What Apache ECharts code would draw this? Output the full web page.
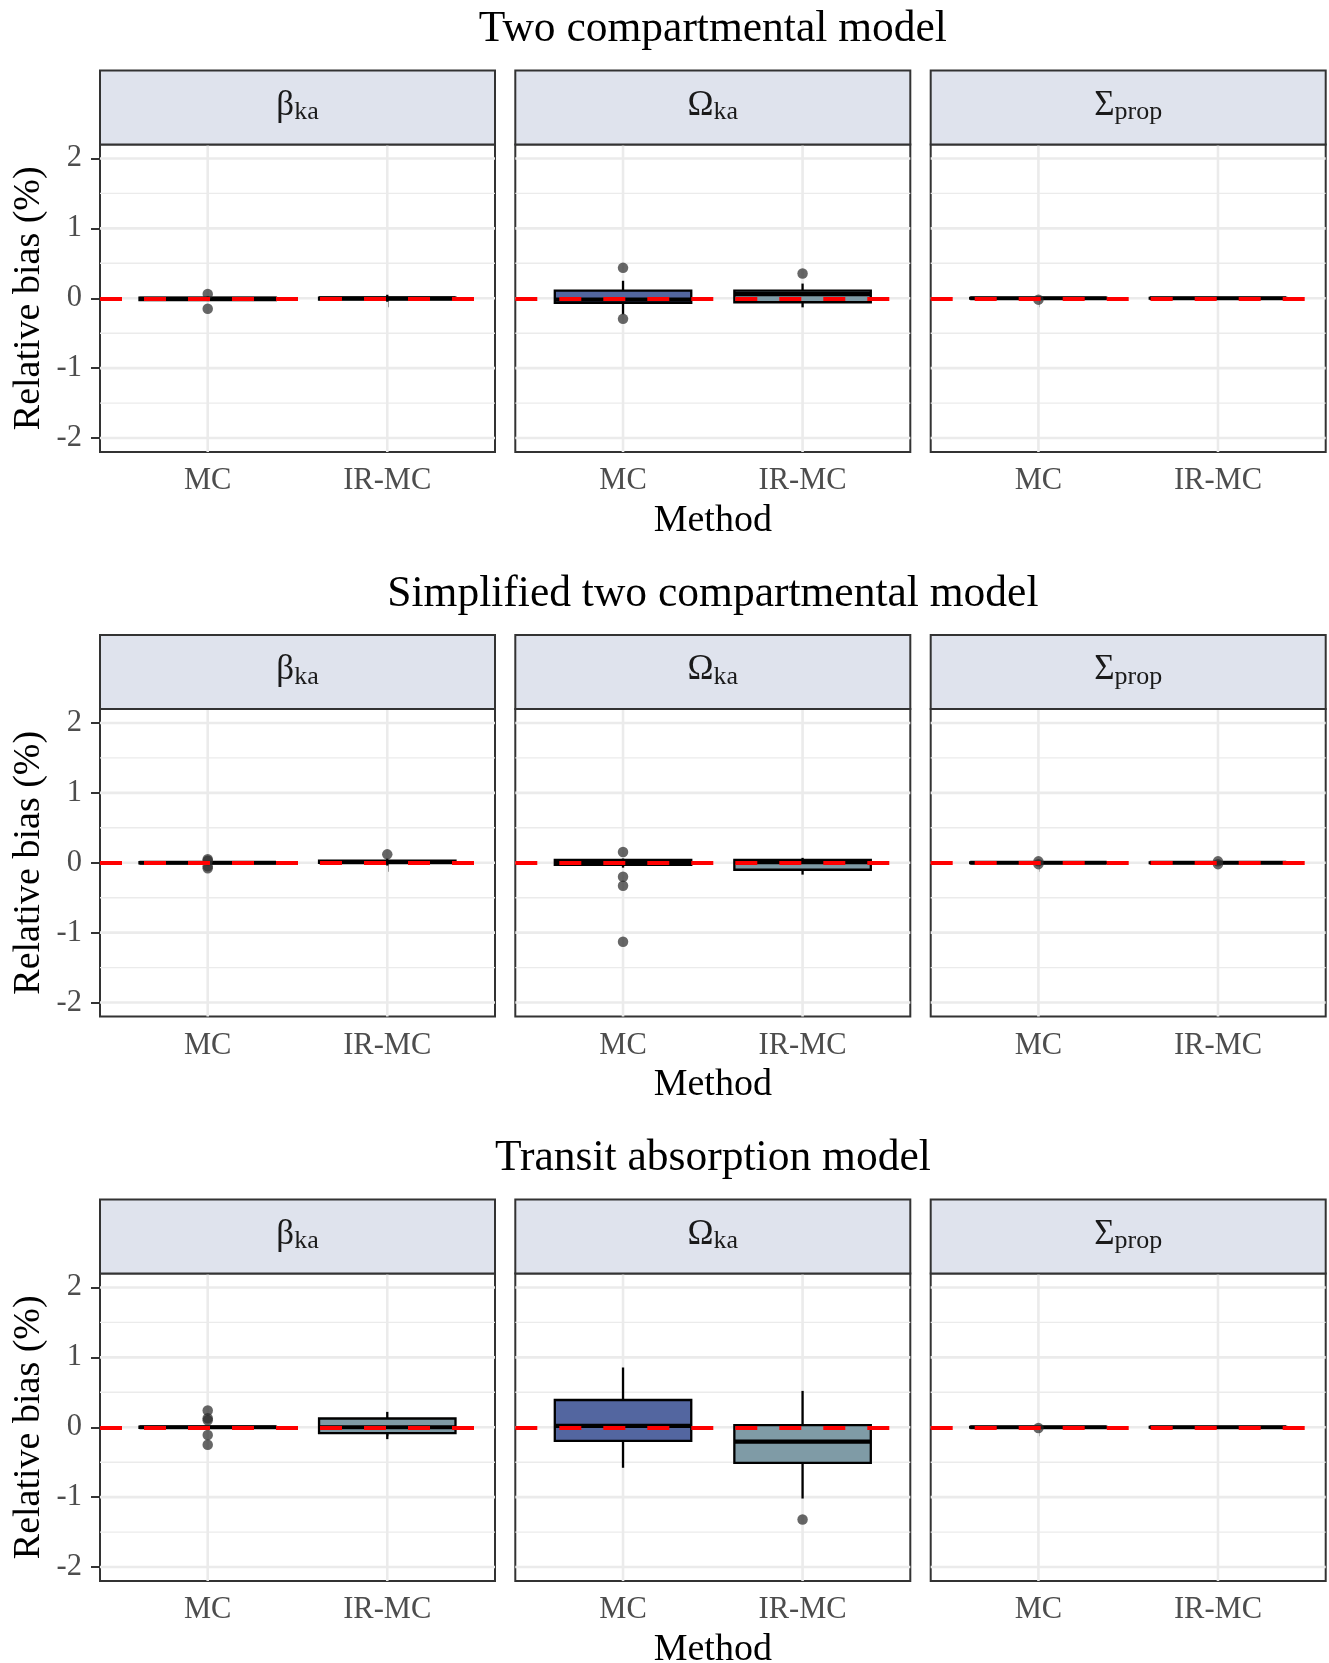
<!DOCTYPE html>
<html>
<head>
<meta charset="utf-8">
<script src="https://cdn.jsdelivr.net/npm/echarts@6/dist/echarts.min.js"></script>
<style>html,body{margin:0;padding:0;background:#fff;}#chart{width:1329px;height:1663px;}</style>
</head>
<body>
<div id="chart"></div>
<script>
// ---------- data ----------
const modelTitles = ['Two compartmental model', 'Simplified two compartmental model', 'Transit absorption model'];
const paramSymbols = ['β', 'Ω', 'Σ'];
const paramSubs = ['ka', 'ka', 'prop'];
const methods = ['MC', 'IR-MC'];
const yTicks = [-2, -1, 0, 1, 2];
const yMinor = [-1.5, -0.5, 0.5, 1.5];
const refValue = 0;

// box stats per parameter: [MC, IR-MC], each [lowerWhisker, q1, median, q3, upperWhisker]
const twoCompBoxes = [
  [[-0.04, -0.025, -0.01, 0.01, 0.03], [-0.05, -0.02, 0.0, 0.01, 0.05]],
  [[-0.23, -0.066, -0.02, 0.11, 0.25], [-0.13, -0.057, 0.06, 0.11, 0.21]],
  [[-0.01, -0.005, 0.0, 0.005, 0.01], [-0.01, -0.005, 0.0, 0.005, 0.01]]
];
const twoCompOutliers = [
  [[0.06, -0.15], []],
  [[0.435, -0.295], [0.354]],
  [[-0.02], []]
];
const simpBoxes = [
  [[-0.02, -0.01, 0.0, 0.01, 0.02], [-0.04, 0.0, 0.01, 0.03, 0.06]],
  [[-0.07, -0.03, 0.0, 0.04, 0.06], [-0.17, -0.10, 0.01, 0.04, 0.07]],
  [[-0.01, -0.005, 0.0, 0.005, 0.01], [-0.01, -0.005, 0.0, 0.005, 0.01]]
];
const simpOutliers = [
  [[0.05, 0.03, -0.05, -0.08], [0.12]],
  [[0.153, -0.2, -0.33, -1.13], []],
  [[0.02, -0.02], [0.02, -0.02]]
];
const transitBoxes = [
  [[-0.02, -0.01, 0.0, 0.01, 0.02], [-0.17, -0.085, 0.0, 0.125, 0.22]],
  [[-0.58, -0.196, 0.02, 0.39, 0.855], [-1.02, -0.51, -0.205, 0.03, 0.52]],
  [[-0.01, -0.005, 0.0, 0.005, 0.01], [-0.01, -0.005, 0.0, 0.005, 0.01]]
];
const transitOutliers = [
  [[0.24, 0.13, 0.10, -0.11, -0.25], []],
  [[], [-1.32]],
  [[-0.01], []]
];
const allBoxes = [twoCompBoxes, simpBoxes, transitBoxes];
const allOutliers = [twoCompOutliers, simpOutliers, transitOutliers];

// ---------- layout / style ----------
const SERIF = "'Liberation Serif','Times New Roman',serif";
const panelLeft = [100, 515.3, 930.7];
const panelW = 395;
const rowOff = 564.5;
const stripTop0 = 70.5, stripH = 74;
const plotTop0 = 144.5, plotH = 307.5;
const boxWidth = 0.76;
const boxColors = ['#5366A0', '#7F9BA6'];
const stripFill = '#DFE3ED';

const chart = echarts.init(document.getElementById('chart'), null, {renderer: 'canvas'});

const titles = [], grids = [], xAxes = [], yAxes = [], series = [], graphics = [];

for (let r = 0; r < 3; r++) {
  titles.push({
    text: modelTitles[r], left: 712.9, top: 8 + r * rowOff, textAlign: 'center', padding: 0,
    textStyle: {fontSize: 43.5, fontWeight: 'normal', color: '#000', fontFamily: SERIF, lineHeight: 44}
  });
  for (let c = 0; c < 3; c++) {
    const gi = r * 3 + c;
    grids.push({
      left: panelLeft[c], top: plotTop0 + r * rowOff, width: panelW, height: plotH,
      show: true, borderColor: '#333', borderWidth: 2, backgroundColor: '#fff',
      containLabel: false, outerBoundsMode: 'none'
    });
    xAxes.push({
      gridIndex: gi, type: 'value', min: 0.4, max: 2.6,
      axisLine: {show: false}, splitLine: {show: false},
      axisTick: {show: true, customValues: [1, 2], length: 9, lineStyle: {color: '#333', width: 2}},
      axisLabel: {show: true, customValues: [1, 2], formatter: v => methods[Math.round(v) - 1] || '',
        color: '#4D4D4D', fontSize: 30.5, fontFamily: SERIF, margin: 14, lineHeight: 30},
      name: c === 1 ? 'Method' : '', nameLocation: 'middle', nameGap: 50, nameMoveOverlap: false,
      nameTextStyle: {fontSize: 38, color: '#000', fontFamily: SERIF, lineHeight: 38}
    });
    yAxes.push({
      gridIndex: gi, type: 'value', min: -2.2, max: 2.2,
      axisLine: {show: false}, splitLine: {show: false},
      axisTick: {show: c === 0, customValues: yTicks, length: 9, lineStyle: {color: '#333', width: 2}},
      axisLabel: {show: c === 0, customValues: yTicks, formatter: v => String(v),
        color: '#4D4D4D', fontSize: 30.5, fontFamily: SERIF, margin: 18},
      name: c === 0 ? 'Relative bias (%)' : '', nameLocation: 'middle', nameGap: 52, nameRotate: 90,
      nameMoveOverlap: false,
      nameTextStyle: {fontSize: 38, color: '#000', fontFamily: SERIF, lineHeight: 38}
    });

    // horizontal gridlines
    series.push({
      type: 'custom', xAxisIndex: gi, yAxisIndex: gi, silent: true, z: 1,
      data: yTicks.concat(yMinor).map(v => [1, v]),
      encode: {x: 0, y: 1},
      renderItem: (params, api) => {
        const cs = params.coordSys;
        const v = api.value(1);
        const y = api.coord([1, v])[1];
        return {type: 'line', shape: {x1: cs.x, y1: y, x2: cs.x + cs.width, y2: y},
          style: {stroke: '#EBEBEB', lineWidth: Number.isInteger(v) ? 2.6 : 1.4}};
      }
    });
    // vertical gridlines
    series.push({
      type: 'custom', xAxisIndex: gi, yAxisIndex: gi, silent: true, z: 1,
      data: methods.map((m, i) => [i + 1, 0]),
      encode: {x: 0, y: 1},
      renderItem: (params, api) => {
        const cs = params.coordSys;
        const x = api.coord([api.value(0), 0])[0];
        return {type: 'line', shape: {x1: x, y1: cs.y, x2: x, y2: cs.y + cs.height},
          style: {stroke: '#EBEBEB', lineWidth: 2.6}};
      }
    });
    // boxplots
    const stats = allBoxes[r][c];
    series.push({
      type: 'custom', xAxisIndex: gi, yAxisIndex: gi, silent: true, z: 2,
      data: stats.map((s, i) => [i + 1].concat(s)),
      encode: {x: 0, y: [1, 2, 3, 4, 5]},
      renderItem: (params, api) => {
        const x = api.value(0);
        const lo = api.coord([x, api.value(1)]);
        const q1 = api.coord([x, api.value(2)]);
        const md = api.coord([x, api.value(3)]);
        const q3 = api.coord([x, api.value(4)]);
        const hi = api.coord([x, api.value(5)]);
        const hw = api.size([boxWidth, 0])[0] / 2;
        const cx = lo[0];
        return {type: 'group', children: [
          {type: 'line', shape: {x1: cx, y1: hi[1], x2: cx, y2: q3[1]}, style: {stroke: '#000', lineWidth: 2.3}},
          {type: 'line', shape: {x1: cx, y1: q1[1], x2: cx, y2: lo[1]}, style: {stroke: '#000', lineWidth: 2.3}},
          {type: 'rect', shape: {x: cx - hw, y: q3[1], width: 2 * hw, height: Math.max(q1[1] - q3[1], 0.5)},
            style: {fill: boxColors[params.dataIndex], stroke: '#000', lineWidth: 2.3}},
          {type: 'line', shape: {x1: cx - hw, y1: md[1], x2: cx + hw, y2: md[1]}, style: {stroke: '#000', lineWidth: 4.2}}
        ]};
      }
    });
    // outliers + reference line
    const outs = [];
    allOutliers[r][c].forEach((arr, i) => arr.forEach(v => outs.push([i + 1, v])));
    series.push({
      type: 'scatter', xAxisIndex: gi, yAxisIndex: gi, silent: true, z: 4,
      data: outs, symbolSize: 10.5,
      itemStyle: {color: 'rgba(45,45,45,0.9)'},
      markLine: {
        silent: true, symbol: ['none', 'none'], label: {show: false}, animation: false,
        lineStyle: {color: '#FF0000', width: 4, type: [22, 22]},
        data: [{yAxis: refValue}]
      }
    });

    // strip
    const st = stripTop0 + r * rowOff;
    graphics.push({
      type: 'rect', x: panelLeft[c], y: st, z: 10,
      shape: {x: 0, y: 0, width: panelW, height: stripH},
      style: {fill: stripFill, stroke: '#333', lineWidth: 2}
    });
    graphics.push({
      type: 'text', x: panelLeft[c] + panelW / 2, y: st + stripH / 2 - 2, z: 11,
      style: {
        text: '{m|' + paramSymbols[c] + '}{s|' + paramSubs[c] + '}',
        align: 'center', verticalAlign: 'middle',
        rich: {
          m: {fontSize: 35, fontFamily: SERIF, fill: '#1A1A1A', color: '#1A1A1A', lineHeight: 40},
          s: {fontSize: 26, fontFamily: SERIF, fill: '#1A1A1A', color: '#1A1A1A', lineHeight: 26, padding: [14, 0, 0, 0]}
        }
      }
    });
  }
}

chart.setOption({
  animation: false,
  backgroundColor: '#fff',
  title: titles,
  grid: grids,
  xAxis: xAxes,
  yAxis: yAxes,
  series: series,
  graphic: graphics
});
</script>
</body>
</html>
